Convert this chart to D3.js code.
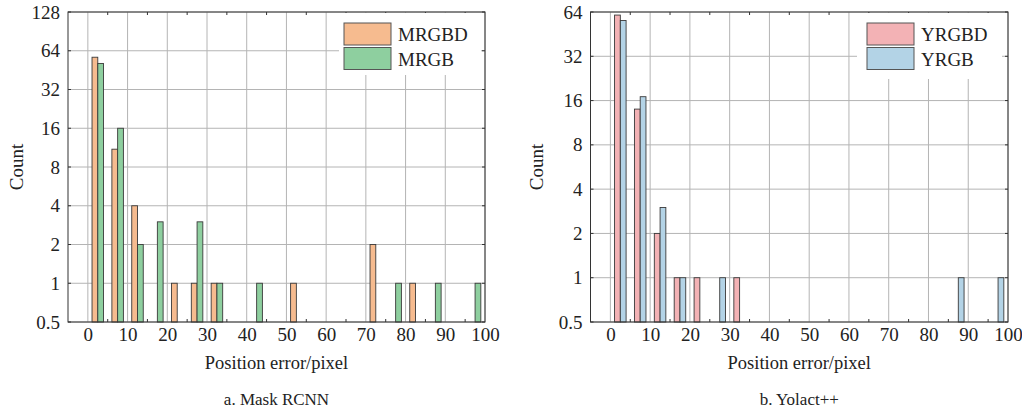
<!DOCTYPE html>
<html>
<head>
<meta charset="utf-8">
<script src="https://cdn.jsdelivr.net/npm/d3@7"></script>
<style>
  html, body { margin: 0; padding: 0; background: #fff; }
  svg { display: block; }
</style>
</head>
<body>
<svg id="chart" width="1022" height="411"></svg>
<script>
// ---- data ----
const binCenters = [2.5, 7.5, 12.5, 17.5, 22.5, 27.5, 32.5, 37.5, 42.5, 47.5,
                    52.5, 57.5, 62.5, 67.5, 72.5, 77.5, 82.5, 87.5, 92.5, 97.5];
const mrgbd = [57, 11, 4, 0, 1, 1, 1, 0, 0, 0, 1, 0, 0, 0, 2, 0, 1, 0, 0, 0];
const mrgb  = [51, 16, 2, 3, 0, 3, 1, 0, 1, 0, 0, 0, 0, 0, 0, 1, 0, 1, 0, 1];
const yrgbd = [61, 14, 2, 1, 1, 0, 1, 0, 0, 0, 0, 0, 0, 0, 0, 0, 0, 0, 0, 0];
const yrgb  = [56, 17, 3, 1, 0, 1, 0, 0, 0, 0, 0, 0, 0, 0, 0, 0, 0, 1, 0, 1];
const xTicks = [0, 10, 20, 30, 40, 50, 60, 70, 80, 90, 100];
const xMinorTicks = [5, 15, 25, 35, 45, 55, 65, 75, 85, 95];
const yTicksA = [0.5, 1, 2, 4, 8, 16, 32, 64, 128];
const yTicksB = [0.5, 1, 2, 4, 8, 16, 32, 64];
const seriesNamesA = ["MRGBD", "MRGB"];
const seriesNamesB = ["YRGBD", "YRGB"];
const coloursA = ["#F6BB8F", "#8ECF9F"];
const coloursB = ["#F3B2B5", "#B3D3E6"];

const FONT = "'Liberation Serif', 'Times New Roman', Times, serif";
const svg = d3.select("#chart");

function panel(opt) {
  const x = d3.scaleLinear().domain([-5, 100]).range([opt.left, opt.right]);
  const y = d3.scaleLog().base(2).domain([opt.yTicks[0], opt.yTicks[opt.yTicks.length - 1]]).range([opt.bottom, opt.top]);
  const g = svg.append("g");

  // grid
  g.append("g").selectAll("line").data(xTicks).join("line")
    .attr("x1", d => x(d)).attr("x2", d => x(d))
    .attr("y1", opt.top).attr("y2", opt.bottom)
    .attr("stroke", "#b4b4b4").attr("stroke-width", 1);
  g.append("g").selectAll("line").data(opt.yTicks).join("line")
    .attr("x1", opt.left).attr("x2", opt.right)
    .attr("y1", d => y(d)).attr("y2", d => y(d))
    .attr("stroke", "#b4b4b4").attr("stroke-width", 1);

  // minor ticks inward
  g.append("g").selectAll("line").data(xMinorTicks).join("line")
    .attr("x1", d => x(d)).attr("x2", d => x(d))
    .attr("y1", opt.bottom).attr("y2", opt.bottom - 3)
    .attr("stroke", "#333");
  g.append("g").selectAll("line").data(xMinorTicks).join("line")
    .attr("x1", d => x(d)).attr("x2", d => x(d))
    .attr("y1", opt.top).attr("y2", opt.top + 3)
    .attr("stroke", "#333");

  // bars
  const bw = 1.45;
  opt.series.forEach((vals, si) => {
    const data = binCenters.map((c, i) => ({ c, v: vals[i] })).filter(d => d.v > 0);
    g.append("g").selectAll("rect").data(data).join("rect")
      .attr("x", d => x(d.c + (si === 0 ? -bw : 0)))
      .attr("width", d => x(d.c + bw) - x(d.c))
      .attr("y", d => y(d.v))
      .attr("height", d => opt.bottom - y(d.v))
      .attr("fill", opt.colours[si])
      .attr("stroke", "#3a3a3a").attr("stroke-width", 0.9);
  });

  // legend
  const lg = g.append("g");
  lg.append("rect").attr("x", opt.legend.x0).attr("y", opt.top + 1)
    .attr("width", opt.legend.x1 - opt.legend.x0).attr("height", opt.legend.y1 - opt.top - 1)
    .attr("fill", "#fff");
  opt.names.forEach((n, i) => {
    const yy = opt.legend.sy + i * 24.5;
    lg.append("rect").attr("x", opt.legend.sx).attr("y", yy)
      .attr("width", 47).attr("height", 22)
      .attr("fill", opt.colours[i]).attr("stroke", "#555").attr("stroke-width", 1);
    lg.append("text").attr("x", opt.legend.sx + 54).attr("y", yy + 18)
      .style("font-family", FONT).style("font-size", "19px").attr("fill", "#222").text(n);
  });

  // frame
  g.append("rect").attr("x", opt.left).attr("y", opt.top)
    .attr("width", opt.right - opt.left).attr("height", opt.bottom - opt.top)
    .attr("fill", "none").attr("stroke", "#333").attr("stroke-width", 1);

  // y axis
  const ya = d3.axisLeft(y).tickValues(opt.yTicks).tickFormat(d => String(d)).tickSize(0).tickPadding(8);
  const yg = g.append("g").attr("transform", `translate(${opt.left},0)`).call(ya);
  yg.select(".domain").remove();
  yg.attr("font-family", null).attr("font-size", null);
  yg.selectAll("text").style("font-family", FONT).style("font-size", "19px").attr("fill", "#222");
  g.append("g").selectAll("line").data(opt.yTicks).join("line")
    .attr("x1", opt.left).attr("x2", opt.left + 3)
    .attr("y1", d => y(d)).attr("y2", d => y(d)).attr("stroke", "#333");
  g.append("g").selectAll("line").data(opt.yTicks).join("line")
    .attr("x1", opt.right).attr("x2", opt.right - 3)
    .attr("y1", d => y(d)).attr("y2", d => y(d)).attr("stroke", "#333");

  // x axis
  const xa = d3.axisBottom(x).tickValues(xTicks).tickFormat(d => String(d)).tickSize(0).tickPadding(6);
  const xg = g.append("g").attr("transform", `translate(0,${opt.bottom})`).call(xa);
  xg.select(".domain").remove();
  xg.attr("font-family", null).attr("font-size", null);
  xg.selectAll("text").style("font-family", FONT).style("font-size", "19px").attr("fill", "#222");

  // labels
  const cx = (opt.left + opt.right) / 2;
  g.append("text").attr("x", cx).attr("y", 369).attr("text-anchor", "middle")
    .style("font-family", FONT).style("font-size", "18.5px").attr("fill", "#222").text("Position error/pixel");
  g.append("text").attr("x", cx).attr("y", 405).attr("text-anchor", "middle")
    .style("font-family", FONT).style("font-size", "17px").attr("fill", "#222").text(opt.caption);
  g.append("text").attr("transform", `translate(${opt.ylabX},${(opt.top + opt.bottom) / 2}) rotate(-90)`)
    .attr("text-anchor", "middle").style("font-family", FONT).style("font-size", "19px").attr("fill", "#222").text("Count");
}

panel({
  left: 68, right: 485, top: 12, bottom: 322,
  yTicks: yTicksA, series: [mrgbd, mrgb], colours: coloursA, names: seriesNamesA,
  legend: { x0: 339, x1: 481, y1: 75, sx: 344, sy: 23 },
  caption: "a. Mask RCNN", ylabX: 23
});
panel({
  left: 590.5, right: 1008, top: 12, bottom: 322,
  yTicks: yTicksB, series: [yrgbd, yrgb], colours: coloursB, names: seriesNamesB,
  legend: { x0: 857, x1: 1002, y1: 79, sx: 867, sy: 23 },
  caption: "b. Yolact++", ylabX: 543
});
</script>
</body>
</html>
